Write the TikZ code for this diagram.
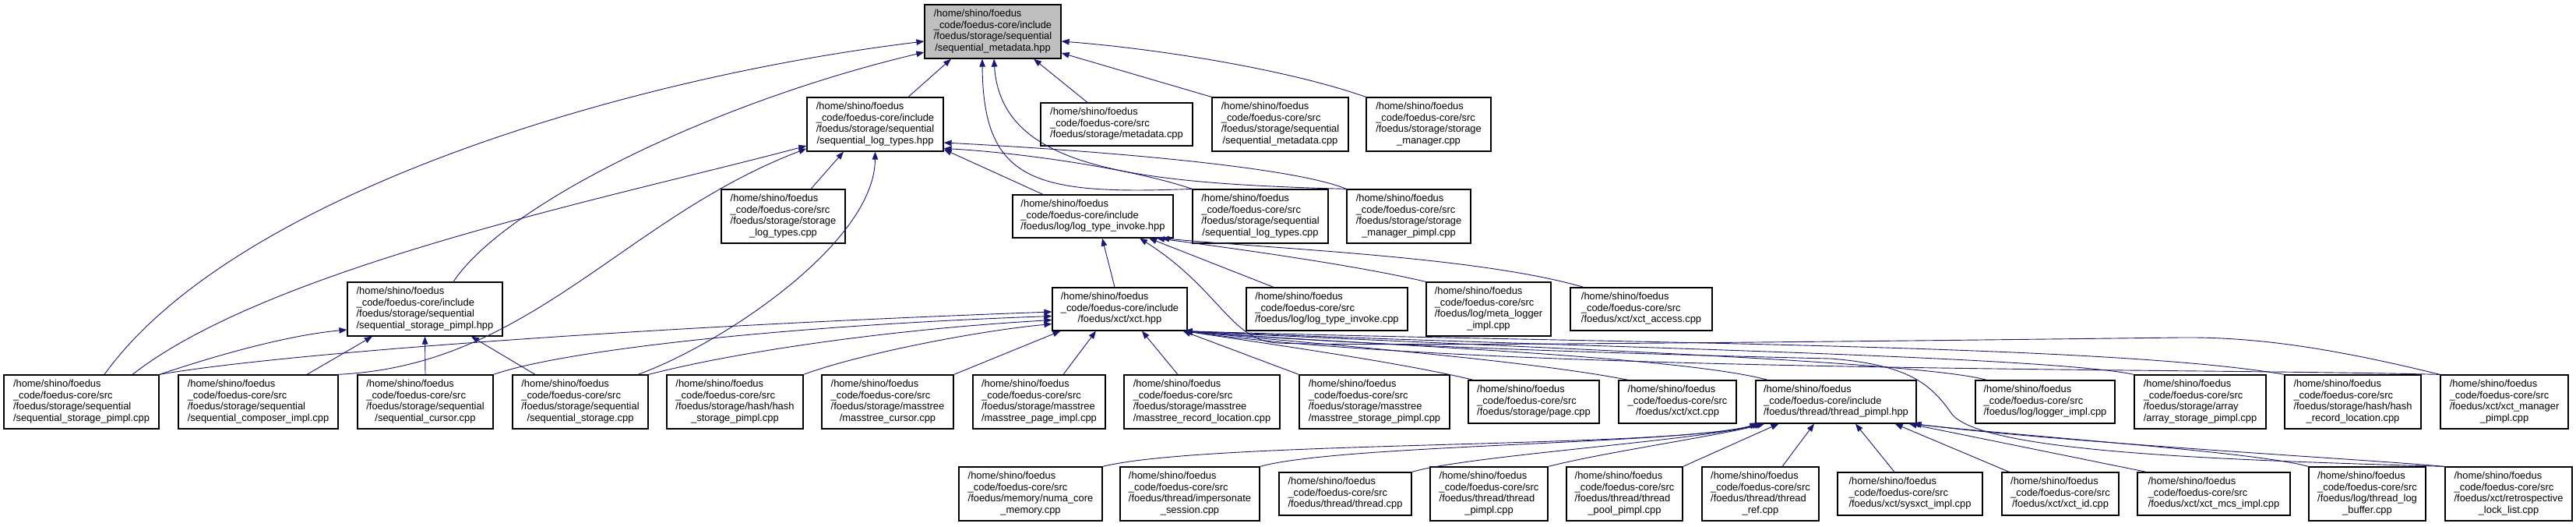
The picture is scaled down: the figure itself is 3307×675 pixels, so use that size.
\documentclass[tikz,border=0pt]{standalone}
\usepackage{fontspec}
\usetikzlibrary{arrows.meta}
\newfontfamily\nodefont{Liberation Sans}
\definecolor{edgeblue}{HTML}{191970}
\definecolor{rootgrey}{HTML}{BFBFBF}
\newcommand{\dlab}[2]{\begin{tabular}{@{}l@{}}#1\\\multicolumn{1}{@{}c@{}}{#2}\end{tabular}}
\tikzset{
  box/.style={draw=black, line width=1.2pt, fill=white, inner sep=0pt,
    font={\nodefont\fontsize{12.9}{14.5}\selectfont}},
  bx/.style 2 args={box, minimum width=#1pt, minimum height=#2pt},
  edge/.style={draw=edgeblue, line width=0.9pt, -{Triangle[length=10pt,width=7.5pt]}}
}
\begin{document}
\begin{tikzpicture}[x=1pt,y=-1pt]
\useasboundingbox (0,0) rectangle (3307,675);
\fill[white] (0,0) rectangle (3307,675);
% row 0
\node[bx={175}{69}, fill=rootgrey] (root) at (1274.5,40.5) {\dlab{/home/shino/foedus\\\_code/foedus-core/include\\/foedus/storage/sequential}{/sequential\_metadata.hpp}};
% row 1
\node[bx={175}{69}] (A) at (1123.5,159.5) {\dlab{/home/shino/foedus\\\_code/foedus-core/include\\/foedus/storage/sequential}{/sequential\_log\_types.hpp}};
\node[bx={195}{55}] (B) at (1433.5,159.5) {\dlab{/home/shino/foedus\\\_code/foedus-core/src}{/foedus/storage/metadata.cpp}};
\node[bx={175}{69}] (C) at (1643.5,159.5) {\dlab{/home/shino/foedus\\\_code/foedus-core/src\\/foedus/storage/sequential}{/sequential\_metadata.cpp}};
\node[bx={160}{69}] (D) at (1834,159.5) {\dlab{/home/shino/foedus\\\_code/foedus-core/src\\/foedus/storage/storage}{\_manager.cpp}};
% row 2
\node[bx={159}{69}] (E) at (1005.5,277.5) {\dlab{/home/shino/foedus\\\_code/foedus-core/src\\/foedus/storage/storage}{\_log\_types.cpp}};
\node[bx={206}{55}] (F) at (1403,277.5) {\dlab{/home/shino/foedus\\\_code/foedus-core/include}{/foedus/log/log\_type\_invoke.hpp}};
\node[bx={174}{69}] (G) at (1618,277.5) {\dlab{/home/shino/foedus\\\_code/foedus-core/src\\/foedus/storage/sequential}{/sequential\_log\_types.cpp}};
\node[bx={159}{69}] (H) at (1808.5,277.5) {\dlab{/home/shino/foedus\\\_code/foedus-core/src\\/foedus/storage/storage}{\_manager\_pimpl.cpp}};
% row 3
\node[bx={199}{69}] (I) at (545.5,396.5) {\dlab{/home/shino/foedus\\\_code/foedus-core/include\\/foedus/storage/sequential}{/sequential\_storage\_pimpl.hpp}};
\node[bx={173}{55}] (J) at (1437.5,396.5) {\dlab{/home/shino/foedus\\\_code/foedus-core/include}{/foedus/xct/xct.hpp}};
\node[bx={207}{55}] (K) at (1703.5,396.5) {\dlab{/home/shino/foedus\\\_code/foedus-core/src}{/foedus/log/log\_type\_invoke.cpp}};
\node[bx={160}{69}] (L) at (1911,396.5) {\dlab{/home/shino/foedus\\\_code/foedus-core/src\\/foedus/log/meta\_logger}{\_impl.cpp}};
\node[bx={182}{55}] (M) at (2107,396.5) {\dlab{/home/shino/foedus\\\_code/foedus-core/src}{/foedus/xct/xct\_access.cpp}};
% row 4
\node[bx={199}{69}] (P1) at (104.5,515.5) {\dlab{/home/shino/foedus\\\_code/foedus-core/src\\/foedus/storage/sequential}{/sequential\_storage\_pimpl.cpp}};
\node[bx={205}{69}] (P2) at (331.5,515.5) {\dlab{/home/shino/foedus\\\_code/foedus-core/src\\/foedus/storage/sequential}{/sequential\_composer\_impl.cpp}};
\node[bx={174}{69}] (P3) at (546,515.5) {\dlab{/home/shino/foedus\\\_code/foedus-core/src\\/foedus/storage/sequential}{/sequential\_cursor.cpp}};
\node[bx={174}{69}] (P4) at (745,515.5) {\dlab{/home/shino/foedus\\\_code/foedus-core/src\\/foedus/storage/sequential}{/sequential\_storage.cpp}};
\node[bx={175}{69}] (P5) at (943.5,515.5) {\dlab{/home/shino/foedus\\\_code/foedus-core/src\\/foedus/storage/hash/hash}{\_storage\_pimpl.cpp}};
\node[bx={169}{69}] (P6) at (1139.5,515.5) {\dlab{/home/shino/foedus\\\_code/foedus-core/src\\/foedus/storage/masstree}{/masstree\_cursor.cpp}};
\node[bx={170}{69}] (P7) at (1334,515.5) {\dlab{/home/shino/foedus\\\_code/foedus-core/src\\/foedus/storage/masstree}{/masstree\_page\_impl.cpp}};
\node[bx={200}{69}] (P8) at (1543,515.5) {\dlab{/home/shino/foedus\\\_code/foedus-core/src\\/foedus/storage/masstree}{/masstree\_record\_location.cpp}};
\node[bx={193}{69}] (P9) at (1764.5,515.5) {\dlab{/home/shino/foedus\\\_code/foedus-core/src\\/foedus/storage/masstree}{/masstree\_storage\_pimpl.cpp}};
\node[bx={168}{55}] (P10) at (1969,515.5) {\dlab{/home/shino/foedus\\\_code/foedus-core/src}{/foedus/storage/page.cpp}};
\node[bx={151}{55}] (P11) at (2153.5,515.5) {\dlab{/home/shino/foedus\\\_code/foedus-core/src}{/foedus/xct/xct.cpp}};
\node[bx={206}{55}] (T) at (2357,515.5) {\dlab{/home/shino/foedus\\\_code/foedus-core/include}{/foedus/thread/thread\_pimpl.hpp}};
\node[bx={179}{55}] (P12) at (2625.5,515.5) {\dlab{/home/shino/foedus\\\_code/foedus-core/src}{/foedus/log/logger\_impl.cpp}};
\node[bx={169}{69}] (P13) at (2824.5,515.5) {\dlab{/home/shino/foedus\\\_code/foedus-core/src\\/foedus/storage/array}{/array\_storage\_pimpl.cpp}};
\node[bx={175}{69}] (P14) at (3020.5,515.5) {\dlab{/home/shino/foedus\\\_code/foedus-core/src\\/foedus/storage/hash/hash}{\_record\_location.cpp}};
\node[bx={164}{69}] (P15) at (3215,515.5) {\dlab{/home/shino/foedus\\\_code/foedus-core/src\\/foedus/xct/xct\_manager}{\_pimpl.cpp}};
% row 5
\node[bx={184}{69}] (Q1) at (1323,633.5) {\dlab{/home/shino/foedus\\\_code/foedus-core/src\\/foedus/memory/numa\_core}{\_memory.cpp}};
\node[bx={179}{69}] (Q2) at (1527.5,633.5) {\dlab{/home/shino/foedus\\\_code/foedus-core/src\\/foedus/thread/impersonate}{\_session.cpp}};
\node[bx={170}{55}] (Q3) at (1727,633.5) {\dlab{/home/shino/foedus\\\_code/foedus-core/src}{/foedus/thread/thread.cpp}};
\node[bx={151}{69}] (Q4) at (1911.5,633.5) {\dlab{/home/shino/foedus\\\_code/foedus-core/src\\/foedus/thread/thread}{\_pimpl.cpp}};
\node[bx={149}{69}] (Q5) at (2085.5,633.5) {\dlab{/home/shino/foedus\\\_code/foedus-core/src\\/foedus/thread/thread}{\_pool\_pimpl.cpp}};
\node[bx={150}{69}] (Q6) at (2260,633.5) {\dlab{/home/shino/foedus\\\_code/foedus-core/src\\/foedus/thread/thread}{\_ref.cpp}};
\node[bx={186}{55}] (Q7) at (2452,633.5) {\dlab{/home/shino/foedus\\\_code/foedus-core/src}{/foedus/xct/sysxct\_impl.cpp}};
\node[bx={150}{55}] (Q8) at (2645,633.5) {\dlab{/home/shino/foedus\\\_code/foedus-core/src}{/foedus/xct/xct\_id.cpp}};
\node[bx={196}{55}] (Q9) at (2842,633.5) {\dlab{/home/shino/foedus\\\_code/foedus-core/src}{/foedus/xct/xct\_mcs\_impl.cpp}};
\node[bx={150}{69}] (Q10) at (3039,633.5) {\dlab{/home/shino/foedus\\\_code/foedus-core/src\\/foedus/log/thread\_log}{\_buffer.cpp}};
\node[bx={163}{69}] (Q11) at (3220.5,633.5) {\dlab{/home/shino/foedus\\\_code/foedus-core/src\\/foedus/xct/retrospective}{\_lock\_list.cpp}};

% edges into root
\draw[edge] ([xshift=42.5pt]A.north) -- ([xshift=-53.5pt]root.south);
\draw[edge] ([xshift=-37.5pt]B.north) -- ([xshift=52.5pt]root.south);
\draw[edge] (C.north west) -- ([yshift=-27.5pt]root.east);
\draw[edge] (D.north west) .. controls (1650,88) and (1480,62) .. ([yshift=-12.5pt]root.east);
\draw[edge] ([xshift=36.5pt]I.north) .. controls (650,260) and (920,130) .. ([yshift=-26.5pt]root.west);
\draw[edge] ([xshift=29.5pt]P1.north) .. controls (300,250) and (800,100) .. ([yshift=-12.5pt]root.west);
\draw[edge] (G.north west) .. controls (1330,250) and (1262,235) .. ([xshift=-13.5pt]root.south);
\draw[edge] (H.north west) .. controls (1450,235) and (1285,215) .. ([xshift=1.5pt]root.south);
% edges into A
\draw[edge] ([xshift=35.5pt]E.north) -- ([xshift=-40.5pt]A.south);
\draw[edge] ([xshift=74pt]P4.north) .. controls (930,440) and (1123,310) .. (A.south);
\draw[edge] ([xshift=65.5pt]P1.north) .. controls (350,340) and (800,250) .. ([yshift=-27.5pt]A.west);
\draw[edge] ([xshift=100.5pt]P2.north) .. controls (680,470) and (800,280) .. ([yshift=4pt]A.south west);
\draw[edge] ([xshift=-64pt]F.north) -- ([yshift=3pt]A.south east);
\draw[edge] (G.north west) .. controls (1450,215) and (1300,195) .. ([yshift=-31pt]A.east);
\draw[edge] (H.north west) .. controls (1650,210) and (1350,190) .. ([yshift=-23.5pt]A.east);
% edges into F
\draw[edge] ([xshift=-6.5pt]J.north) -- ([xshift=12pt]F.south);
\draw[edge] ([xshift=-68.5pt]K.north) -- ([xshift=72pt]F.south);
\draw[edge] (L.north west) .. controls (1740,340) and (1580,318) .. ([xshift=82pt]F.south);
\draw[edge] ([xshift=-74pt]M.north) .. controls (1900,330) and (1650,320) .. ([xshift=88pt]F.south);
\draw[edge] (P15.north west) .. controls (3000,448) and (2900,432) .. (2800,433)
  .. controls (2700,434) and (1800,446) .. (1640,440)
  .. controls (1580,437) and (1565,370) .. ([xshift=60pt]F.south);
% edges into I
\draw[edge] (P1.north east) .. controls (280,455) and (370,430) .. ([yshift=-26.5pt]I.west);
\draw[edge] ([xshift=62.5pt]P2.north) -- ([xshift=-67.5pt]I.south);
\draw[edge] (P3.north) -- (I.south);
\draw[edge] ([xshift=-58pt]P4.north) -- ([xshift=59.5pt]I.south);
% edges into J
\draw[edge] (P1.north east) .. controls (350,455) and (800,420) .. ([yshift=-3.5pt]J.west);
\draw[edge] (P3.north east) .. controls (720,450) and (1000,418) .. ([yshift=-9pt]J.west);
\draw[edge] (P4.north east) .. controls (950,450) and (1150,422) .. ([yshift=-14pt]J.west);
\draw[edge] (P5.north east) .. controls (1100,455) and (1250,425) .. ([yshift=-19pt]J.west);
\draw[edge] (P6.north east) -- ([xshift=-76pt]J.south);
\draw[edge] ([xshift=31pt]P7.north) -- ([xshift=-30.5pt]J.south);
\draw[edge] ([xshift=-31pt]P8.north) -- ([xshift=28.5pt]J.south);
\draw[edge] (P9.north west) -- ([xshift=-6pt]J.south east);
\draw[edge] ([xshift=7pt]P10.north west) .. controls (1800,465) and (1620,440) .. ([xshift=-4pt]J.south east);
\draw[edge] ([xshift=13pt]P11.north west) .. controls (1950,460) and (1650,438) .. ([xshift=-4pt]J.south east);
\draw[edge] ([xshift=16pt]T.north west) .. controls (2150,455) and (1700,440) .. ([xshift=-4pt]J.south east);
\draw[edge] ([xshift=15pt]P12.north west) .. controls (2450,460) and (1800,440) .. ([xshift=-4pt]J.south east);
\draw[edge] (P13.north west) .. controls (2620,455) and (1900,442) .. ([xshift=-4pt]J.south east);
\draw[edge] (P14.north west) .. controls (2700,440) and (2000,440) .. ([xshift=-4pt]J.south east);
\draw[edge] (P15.north west) .. controls (2800,472) and (1900,478) .. ([xshift=-4pt]J.south east);
\draw[edge] (Q11.north west) .. controls (2850,590) and (2540,580) .. (2505,530)
  .. controls (2478,492) and (2450,468) .. (2350,460)
  .. controls (2000,452) and (1700,440) .. ([xshift=-4pt]J.south east);
% edges into T
\draw[edge] (Q1.north east) .. controls (1550,565) and (2150,575) .. ([xshift=3pt]T.south west);
\draw[edge] (Q2.north east) .. controls (1720,570) and (2160,570) .. ([xshift=6pt]T.south west);
\draw[edge] (Q3.north east) .. controls (1880,585) and (2180,565) .. ([xshift=9pt]T.south west);
\draw[edge] (Q4.north east) .. controls (2060,580) and (2200,560) .. ([xshift=12pt]T.south west);
\draw[edge] (Q5.north east) -- ([xshift=30pt]T.south west);
\draw[edge] ([xshift=28pt]Q6.north) -- ([xshift=-28pt]T.south);
\draw[edge] ([xshift=-20pt]Q7.north) -- ([xshift=25pt]T.south);
\draw[edge] ([xshift=10pt]Q8.north west) -- ([xshift=-28pt]T.south east);
\draw[edge] ([xshift=12pt]Q9.north west) -- ([xshift=-10pt]T.south east);
\draw[edge] (Q10.north west) .. controls (2900,580) and (2600,560) .. ([xshift=-6pt]T.south east);
\draw[edge] (Q11.north west) .. controls (3050,590) and (2650,568) .. ([xshift=-4pt]T.south east);
\end{tikzpicture}
\end{document}
